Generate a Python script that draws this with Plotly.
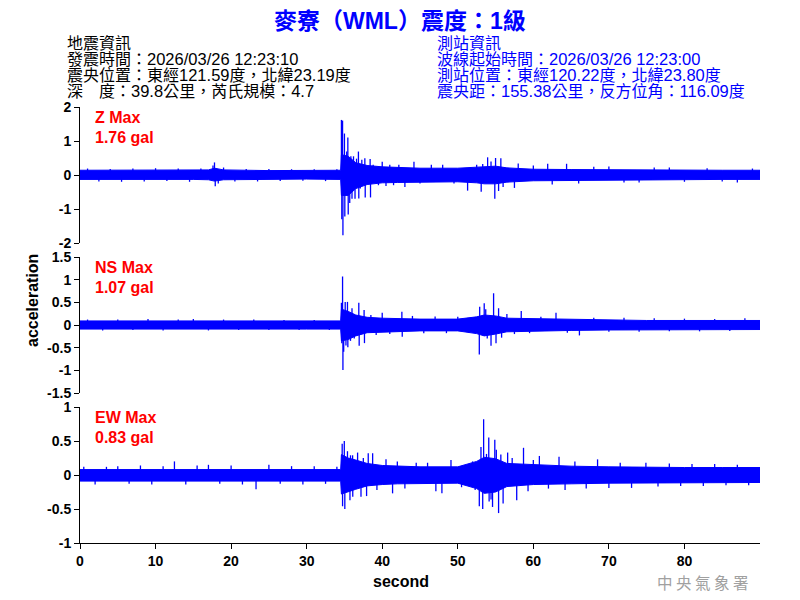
import re
import plotly.graph_objects as go
from plotly.subplots import make_subplots

# ---------------- data ----------------
T_ENV = [0, 5, 10, 15, 17, 17.8, 19, 25, 30, 34.5, 34.6, 35.5, 36.5, 38, 40, 42, 45, 50,
         52.5, 53.5, 55, 56.5, 60, 65, 70, 75, 80, 85, 90]

Z_HI = [0.14, 0.14, 0.14, 0.14, 0.15, 0.20, 0.15, 0.13, 0.13, 0.14, 0.60, 0.55, 0.36, 0.28,
        0.24, 0.22, 0.20, 0.20, 0.23, 0.26, 0.26, 0.21, 0.17, 0.16, 0.15, 0.15, 0.14, 0.14, 0.14]
Z_LO = [-0.13, -0.13, -0.13, -0.13, -0.14, -0.18, -0.14, -0.12, -0.12, -0.13, -0.60, -0.60,
        -0.40, -0.28, -0.23, -0.22, -0.20, -0.20, -0.23, -0.26, -0.26, -0.21, -0.17, -0.16,
        -0.15, -0.15, -0.14, -0.13, -0.13]

NS_HI = [0.09, 0.09, 0.10, 0.09, 0.10, 0.10, 0.10, 0.09, 0.09, 0.09, 0.35, 0.30, 0.22, 0.17,
         0.15, 0.14, 0.13, 0.13, 0.18, 0.22, 0.20, 0.15, 0.14, 0.12, 0.11, 0.10, 0.10, 0.10, 0.10]
NS_LO = [-0.09, -0.09, -0.10, -0.09, -0.10, -0.10, -0.10, -0.09, -0.09, -0.09, -0.35, -0.32,
         -0.24, -0.17, -0.15, -0.14, -0.13, -0.13, -0.19, -0.24, -0.20, -0.15, -0.14, -0.12,
         -0.11, -0.10, -0.10, -0.10, -0.10]

EW_HI = [0.08, 0.08, 0.09, 0.09, 0.09, 0.09, 0.09, 0.09, 0.08, 0.08, 0.30, 0.25, 0.22, 0.17,
         0.14, 0.13, 0.12, 0.12, 0.20, 0.26, 0.24, 0.17, 0.15, 0.13, 0.12, 0.11, 0.11, 0.11, 0.11]
EW_LO = [-0.09, -0.09, -0.09, -0.09, -0.09, -0.09, -0.09, -0.09, -0.09, -0.09, -0.28, -0.25,
         -0.21, -0.16, -0.14, -0.13, -0.12, -0.12, -0.20, -0.27, -0.25, -0.17, -0.14, -0.13,
         -0.12, -0.11, -0.11, -0.11, -0.11]

Z_SPIKE_T = [1.0, 2.5, 4.0, 5.5, 7.0, 8.5, 10.0, 11.5, 13.0, 14.5, 16.0, 17.6, 17.8, 17.9, 18.3,
             19.0, 20.5, 22.0, 23.5, 25.0, 26.5, 28.0, 29.5, 31.0, 32.5, 34.0,
             34.6, 34.65, 34.75, 34.8, 35.0, 35.05, 35.3, 35.45, 35.5, 35.7, 35.85, 36.0, 36.2,
             36.4, 36.6, 36.85, 36.9, 37.1, 37.3, 37.7, 37.75, 38.4, 38.45, 38.8, 39.5, 40.0,
             40.5, 41.0, 41.5, 42.2, 43.0, 44.2, 45.0, 46.5, 48.0, 49.5, 51.3, 52.5, 53.1, 53.3,
             53.95, 54.4, 54.9, 55.0, 55.4, 55.7, 56.0, 57.5, 58.0, 60.0, 61.9, 62.5, 64.4,
             66.0, 68.0, 70.0, 72.0, 74.0, 76.0, 78.0, 80.0, 83.0, 85.0, 87.0, 89.0]
Z_SPIKE_V = [0.19, -0.19, 0.18, -0.20, 0.19, -0.19, 0.20, -0.18, 0.19, -0.20, 0.19, 0.28, 0.37,
             -0.33, -0.25, 0.22, -0.19, 0.18, -0.19, 0.18, -0.18, 0.17, -0.17, 0.17, -0.18, 0.17,
             1.62, -1.30, 1.60, -1.77, 1.22, -1.22, 0.69, 1.10, -1.16, -0.82, 0.55, -0.70, 0.55,
             -0.70, 0.48, 0.69, -0.69, -0.40, 0.45, 0.49, -0.66, 0.47, -0.66, 0.30, -0.30, 0.39,
             -0.32, 0.30, -0.30, 0.30, -0.35, 0.39, -0.25, 0.30, 0.30, -0.25, -0.46, 0.30, -0.49,
             0.32, 0.52, 0.40, -0.70, 0.50, -0.47, 0.49, -0.35, -0.38, 0.34, 0.28, 0.33, -0.28,
             0.33, -0.25, 0.24, 0.25, -0.22, -0.22, 0.22, 0.22, -0.20, 0.20, -0.19, -0.22, 0.19]

NS_SPIKE_T = [1.0, 3.0, 5.0, 7.0, 9.0, 11.0, 13.0, 15.0, 17.0, 19.0, 21.0, 23.0, 25.0, 27.0,
              29.0, 31.0, 33.0, 34.6, 34.65, 34.75, 34.8, 34.9, 35.1, 35.2, 35.4, 35.45, 35.8,
              36.0, 36.3, 36.9, 36.95, 37.6, 37.65, 38.5, 39.2, 40.0, 41.0, 42.6, 42.65, 44.0,
              45.5, 47.0, 48.5, 50.0, 51.5, 52.85, 52.9, 53.5, 53.7, 53.9, 54.4, 54.74, 55.06,
              55.4, 55.8, 56.5, 57.5, 58.4, 59.5, 61.0, 63.0, 64.5, 66.1, 68.0, 70.0, 72.0, 74.0,
              76.0, 78.0, 80.0, 82.0, 84.0, 86.0, 88.0]
NS_SPIKE_V = [0.12, -0.12, 0.12, -0.11, 0.13, -0.12, 0.12, 0.13, -0.12, 0.12, -0.11, 0.12, -0.11,
              0.11, -0.11, 0.11, -0.11, 0.49, -0.40, 1.07, -0.99, -0.59, 0.51, -0.45, 0.51, -0.49,
              -0.35, 0.37, -0.30, 0.49, -0.46, 0.33, -0.40, 0.22, -0.22, 0.27, -0.20, 0.29, -0.26,
              0.20, -0.18, 0.19, -0.18, 0.18, -0.17, -0.65, 0.40, 0.48, 0.35, -0.30, -0.46, 0.70,
              -0.40, 0.37, -0.28, 0.24, -0.20, 0.31, -0.18, 0.18, 0.27, -0.17, -0.23, 0.16, -0.15,
              0.16, -0.15, 0.15, -0.14, 0.14, -0.14, 0.13, -0.13, 0.15]

EW_SPIKE_T = [0.5, 2.0, 3.5, 5.0, 6.5, 8.0, 9.5, 11.0, 12.5, 14.0, 15.5, 17.0, 18.5, 20.0, 21.5,
              23.3, 25.0, 26.5, 28.0, 29.5, 31.0, 32.5, 34.0, 34.7, 34.75, 34.98, 35.05, 35.4,
              35.73, 35.8, 36.08, 36.1, 36.74, 37.19, 37.5, 37.93, 38.15, 38.73, 39.3, 40.5,
              41.37, 42.0, 43.0, 44.5, 46.0, 47.1, 47.9, 49.1, 50.5, 51.96, 52.3, 52.85, 53.07,
              53.3, 53.42, 53.6, 53.8, 54.1, 54.15, 54.4, 54.6, 54.9, 55.1, 55.4, 55.7, 56.0,
              56.6, 57.2, 57.8, 58.7, 59.3, 60.0, 60.8, 62.0, 63.4, 64.2, 65.5, 67.0, 68.5, 70.0,
              71.5, 73.0, 74.9, 76.5, 78.0, 79.5, 81.0, 82.5, 84.0, 85.5, 87.0, 88.5]
EW_SPIKE_V = [0.12, -0.14, 0.12, 0.13, -0.13, 0.14, -0.14, 0.13, 0.20, -0.14, 0.14, 0.15, -0.13,
              0.14, -0.14, -0.21, 0.15, -0.13, 0.13, -0.14, 0.13, -0.13, 0.12, 0.46, -0.46, 0.50,
              -0.50, 0.35, -0.37, 0.29, 0.29, -0.32, 0.33, -0.32, 0.25, -0.31, 0.32, 0.32, -0.22,
              0.23, -0.27, 0.20, -0.20, 0.18, 0.18, -0.24, -0.27, 0.22, -0.18, 0.20, -0.22, -0.46,
              0.41, -0.50, 0.82, -0.25, 0.31, 0.55, -0.39, -0.36, -0.47, 0.52, 0.37, -0.56, 0.30,
              -0.42, 0.33, 0.25, -0.37, 0.40, -0.24, 0.22, 0.28, -0.20, 0.27, -0.22, 0.20, -0.20,
              0.23, -0.19, 0.18, -0.19, 0.18, -0.17, 0.17, -0.16, 0.16, -0.16, 0.16, -0.15, 0.15,
              -0.15]

CHANNELS = ["Z", "NS", "EW"]
MAX_TEXT = ["1.76 gal", "1.07 gal", "0.83 gal"]
Y_RANGES = [[-2, 2], [-1.5, 1.5], [-1, 1]]
Y_TICKVALS = [[-2, -1, 0, 1, 2], [-1.5, -1, -0.5, 0, 0.5, 1, 1.5], [-1, -0.5, 0, 0.5, 1]]
Y_TICKTEXT = [["-2", "-1", "0", "1", "2"], ["-1.5", "-1", "-0.5", "0", "0.5", "1", "1.5"],
              ["-1", "-0.5", "0", "0.5", "1"]]
X_TICKS = [0, 10, 20, 30, 40, 50, 60, 70, 80]

TITLE = "麥寮（WML）震度：1級"
LEFT_INFO = ["地震資訊", "發震時間：2026/03/26 12:23:10", "震央位置：東經121.59度，北緯23.19度",
             "深　度：39.8公里，芮氏規模：4.7"]
RIGHT_INFO = ["測站資訊", "波線起始時間：2026/03/26 12:23:00", "測站位置：東經120.22度，北緯23.80度",
              "震央距：155.38公里，反方位角：116.09度"]

# ---------------- figure ----------------
BLUE = "#0000ff"
FONT = "Liberation Sans, Arial, Noto Sans CJK TC, sans-serif"

fig = make_subplots(rows=3, cols=1, shared_xaxes=True, vertical_spacing=14 / 436)

env = [(Z_HI, Z_LO), (NS_HI, NS_LO), (EW_HI, EW_LO)]
spikes = [(Z_SPIKE_T, Z_SPIKE_V), (NS_SPIKE_T, NS_SPIKE_V), (EW_SPIKE_T, EW_SPIKE_V)]

for i in range(3):
    hi, lo = env[i]
    fig.add_trace(go.Scatter(x=T_ENV + T_ENV[::-1], y=hi + lo[::-1], mode="lines",
                             fill="toself", fillcolor=BLUE, line=dict(color=BLUE, width=1),
                             hoverinfo="skip", showlegend=False), row=i + 1, col=1)
    st, sv = spikes[i]
    xs, ys = [], []
    for t, v in zip(st, sv):
        xs += [t, t, None]
        ys += [0, v, None]
    fig.add_trace(go.Scatter(x=xs, y=ys, mode="lines", line=dict(color=BLUE, width=1.3),
                             hoverinfo="skip", showlegend=False), row=i + 1, col=1)

domains = [[300 / 436, 1.0], [150 / 436, 286 / 436], [0.0, 136 / 436]]
tickfont = dict(family=FONT, size=14, color="black", weight="bold")
for i in range(3):
    yname = "yaxis" if i == 0 else f"yaxis{i + 1}"
    xname = "xaxis" if i == 0 else f"xaxis{i + 1}"
    fig.layout[yname].update(domain=domains[i], range=Y_RANGES[i], tickmode="array",
                             tickvals=Y_TICKVALS[i], ticktext=Y_TICKTEXT[i], showgrid=False,
                             zeroline=False, showline=True, linecolor="black", linewidth=1,
                             ticks="outside", ticklen=5, tickcolor="black", tickfont=tickfont)
    if i < 2:
        fig.layout[xname].update(range=[0, 90], showline=False, showticklabels=False,
                                 ticks="", showgrid=False, zeroline=False)
    else:
        fig.layout[xname].update(range=[0, 90], showline=True, linecolor="black", linewidth=1,
                                 ticks="outside", ticklen=5, tickcolor="black",
                                 tickmode="array", tickvals=X_TICKS, showgrid=False,
                                 zeroline=False, tickfont=tickfont)


# screen pixel -> paper coordinate (plot area spans x 80..760, y 107..543 on screen)
def px_x(p):
    return (p - 80) / 680


def px_y(p):
    return (543 - p) / 436


def mixed(s, latin_size):
    # Latin runs are set a little larger than the CJK glyphs, as in the original
    return re.sub(r"([0-9./: ]+)",
                  lambda m: f'<span style="font-size:{latin_size}px">{m.group(1)}</span>', s)


label_y = [(117.5, 137.5), (267.5, 287.5), (417.5, 437.5)]
annotations = [dict(text=TITLE, x=px_x(400), y=px_y(21), xref="paper", yref="paper",
                    showarrow=False, xanchor="center", yanchor="middle",
                    font=dict(family=FONT, size=23, color=BLUE, weight="bold"))]
for k, line in enumerate(LEFT_INFO):
    annotations.append(dict(text=mixed(line, 16.5), x=px_x(65), y=px_y(43 + 16 * k),
                            xref="paper", yref="paper", showarrow=False, xanchor="left",
                            yanchor="middle",
                            font=dict(family=FONT, size=16, color="black")))
for k, line in enumerate(RIGHT_INFO):
    annotations.append(dict(text=mixed(line, 16.5), x=px_x(435), y=px_y(43 + 16 * k),
                            xref="paper", yref="paper", showarrow=False, xanchor="left",
                            yanchor="middle",
                            font=dict(family=FONT, size=16, color=BLUE)))
for i in range(3):
    annotations.append(dict(text=f"{CHANNELS[i]} Max", x=px_x(93), y=px_y(label_y[i][0]),
                            xref="paper", yref="paper", showarrow=False, xanchor="left",
                            yanchor="middle",
                            font=dict(family=FONT, size=16, color="red", weight="bold")))
    annotations.append(dict(text=MAX_TEXT[i], x=px_x(93), y=px_y(label_y[i][1]),
                            xref="paper", yref="paper", showarrow=False, xanchor="left",
                            yanchor="middle",
                            font=dict(family=FONT, size=16, color="red", weight="bold")))
annotations.append(dict(text="acceleration", x=px_x(32), y=px_y(301), xref="paper",
                        yref="paper", showarrow=False, textangle=-90, xanchor="center",
                        yanchor="middle",
                        font=dict(family=FONT, size=16, color="black", weight="bold")))
annotations.append(dict(text="second", x=px_x(401), y=px_y(581), xref="paper", yref="paper",
                        showarrow=False, xanchor="center", yanchor="middle",
                        font=dict(family=FONT, size=16, color="black", weight="bold")))
annotations.append(dict(text="中 央 氣 象 署", x=px_x(702), y=px_y(582), xref="paper",
                        yref="paper", showarrow=False, xanchor="center", yanchor="middle",
                        font=dict(family="Noto Sans CJK TC", size=15.5, color="#a0a0a0")))

# the page body adds an 8 px offset, so margins are reduced accordingly
fig.update_layout(width=800, height=600, margin=dict(l=72, r=48, t=99, b=65),
                  paper_bgcolor="white", plot_bgcolor="white", showlegend=False,
                  annotations=annotations)

fig.write_html("out.html")
